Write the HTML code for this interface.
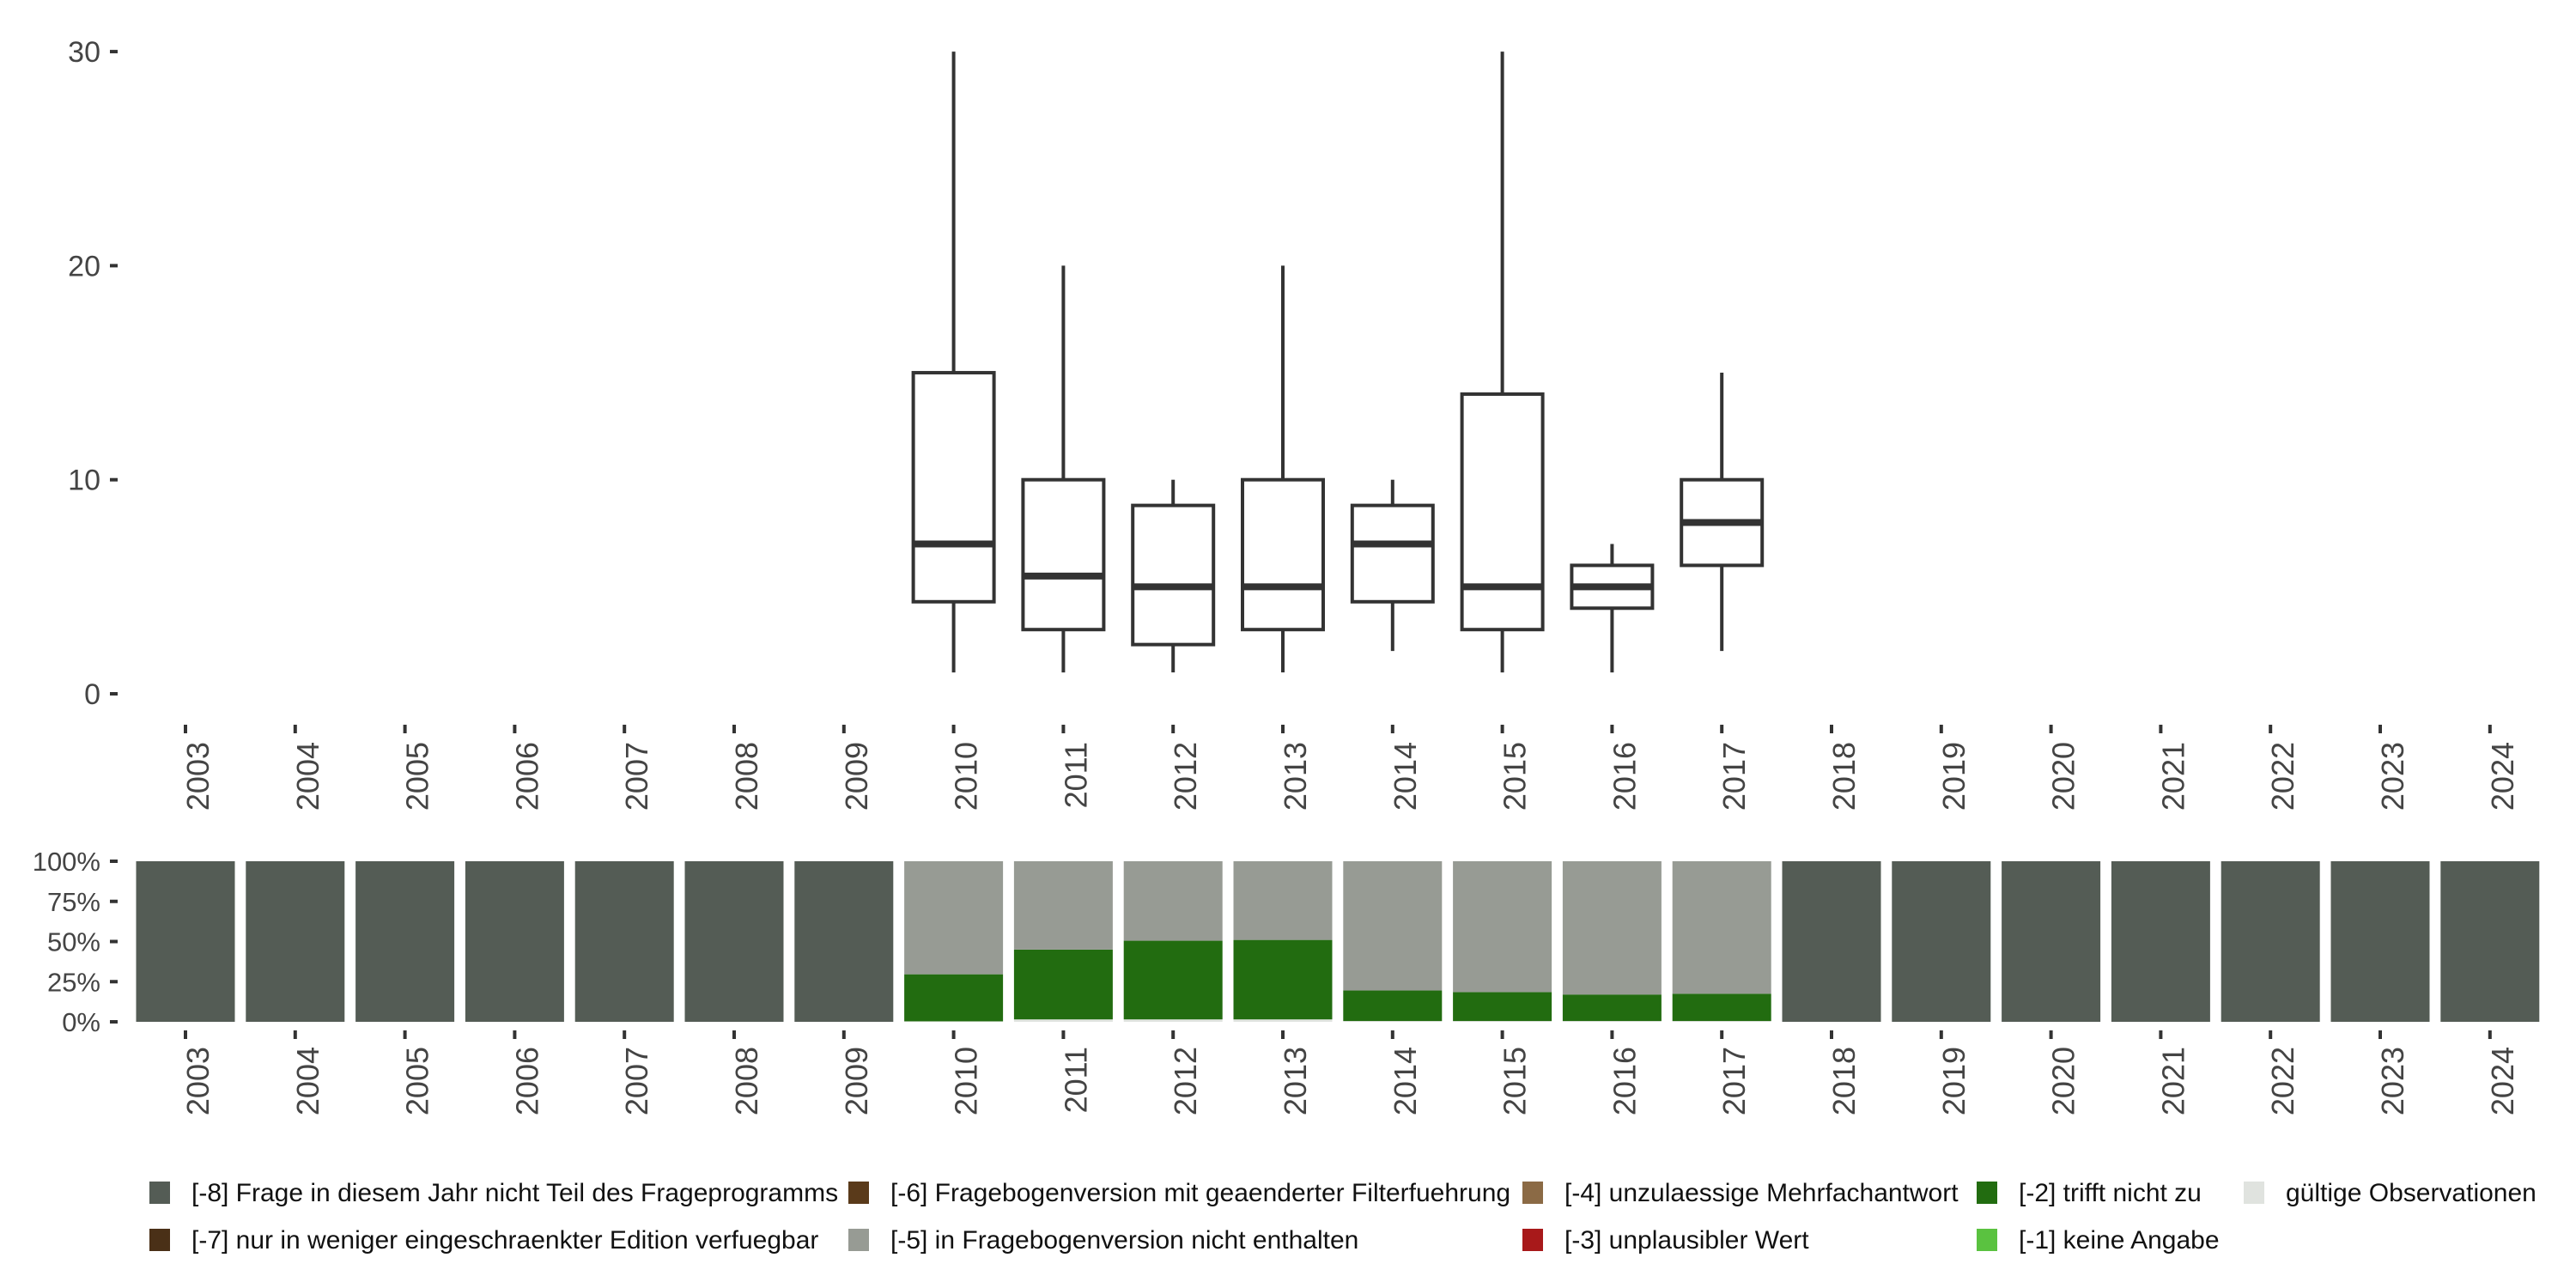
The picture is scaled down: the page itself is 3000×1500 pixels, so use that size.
<!DOCTYPE html>
<html><head><meta charset="utf-8"><style>
html,body{margin:0;padding:0;background:#fff;}
svg{display:block;font-family:"Liberation Sans","DejaVu Sans",sans-serif;}
</style></head><body>
<svg id="chart" width="3000" height="1500" viewBox="0 0 3000 1500"></svg>
<script>
const years = ["2003","2004","2005","2006","2007","2008","2009","2010","2011","2012","2013","2014","2015","2016","2017","2018","2019","2020","2021","2022","2023","2024"];
const boxYears = ["2010","2011","2012","2013","2014","2015","2016","2017"];
const whiskerLow = [1,1,1,1,2,1,1,2];
const q1Values = [4.3,3,2.3,3,4.3,3,4,6];
const medianValues = [7,5.5,5,5,7,5,5,8];
const q3Values = [15,10,8.8,10,8.8,14,6,10];
const whiskerHigh = [30,20,10,20,10,30,7,15];
const yTicks = [0,10,20,30];
const pctTicks = [0,25,50,75,100];
const pctTickLabels = ["0%","25%","50%","75%","100%"];
// share per year (percent): [-8], [-5], [-2], valid
const shareMissing8 = [100,100,100,100,100,100,100,0,0,0,0,0,0,0,0,100,100,100,100,100,100,100];
const shareNotIncluded5 = [0,0,0,0,0,0,0,70.4,55,49.5,49,80.5,81.5,83,82.5,0,0,0,0,0,0,0];
const shareNotApplicable2 = [0,0,0,0,0,0,0,29.3,43.5,49,49.5,19,18,16.5,17,0,0,0,0,0,0,0];
const shareValid = [0,0,0,0,0,0,0,0.3,1.5,1.5,1.5,0.5,0.5,0.5,0.5,0,0,0,0,0,0,0];
const legendLabels = ["[-8] Frage in diesem Jahr nicht Teil des Frageprogramms","[-7] nur in weniger eingeschraenkter Edition verfuegbar","[-6] Fragebogenversion mit geaenderter Filterfuehrung","[-5] in Fragebogenversion nicht enthalten","[-4] unzulaessige Mehrfachantwort","[-3] unplausibler Wert","[-2] trifft nicht zu","[-1] keine Angabe","gültige Observationen"];
const legendColors = ["#545c55","#4a3017","#5a3a1a","#979b94","#8b6a45","#a8191a","#226c10","#5ac240","#e0e3df"];

const NS="http://www.w3.org/2000/svg";
const svg=document.getElementById('chart');
function mk(tag,attrs,parent){const e=document.createElementNS(NS,tag);for(const k in attrs)e.setAttribute(k,attrs[k]);(parent||svg).appendChild(e);return e;}
const xPos = i => 216 + i*127.8;
const yTop = v => 808 - v*24.93;
const yBot = p => 1190 - p*1.87;

const gTop=mk('g',{});


yTicks.forEach(t=>{
  const l=mk('line',{x1:128,x2:137,y1:yTop(t),y2:yTop(t),stroke:'#333','stroke-width':4},gTop);
  
  
  const tx=mk('text',{x:117,y:yTop(t)+12,'text-anchor':'end','font-size':34,fill:'#444'},gTop);
  tx.textContent=t;
  
  
});
years.forEach((yr,i)=>{
  const x=xPos(i);
  const l=mk('line',{x1:x,x2:x,y1:844,y2:854,stroke:'#333','stroke-width':4},gTop);
  
  
  const tx=mk('text',{transform:`translate(${x+27},864) rotate(-90)`,'text-anchor':'end','font-size':36,fill:'#444'},gTop);
  tx.textContent=yr;
  
  
});
boxYears.forEach((yr,k)=>{
  const i=years.indexOf(yr);const x=xPos(i);const w=94;
  const g=mk('g',{},gTop);
  
  
  mk('line',{x1:x,x2:x,y1:yTop(whiskerHigh[k]),y2:yTop(q3Values[k]),stroke:'#333','stroke-width':4},g);
  mk('line',{x1:x,x2:x,y1:yTop(q1Values[k]),y2:yTop(whiskerLow[k]),stroke:'#333','stroke-width':4},g);
  mk('rect',{x:x-w/2,y:yTop(q3Values[k]),width:w,height:yTop(q1Values[k])-yTop(q3Values[k]),fill:'#fff',stroke:'#333','stroke-width':4},g);
  mk('line',{x1:x-w/2,x2:x+w/2,y1:yTop(medianValues[k]),y2:yTop(medianValues[k]),stroke:'#333','stroke-width':8},g);
});

const gBot=mk('g',{});


pctTicks.forEach((t,j)=>{
  const l=mk('line',{x1:128,x2:137,y1:yBot(t),y2:yBot(t),stroke:'#333','stroke-width':4},gBot);
  
  
  const tx=mk('text',{x:117,y:yBot(t)+11,'text-anchor':'end','font-size':31,fill:'#444'},gBot);
  tx.textContent=pctTickLabels[j];
  
  
});
const series=[[shareValid,legendColors[8]],[shareNotApplicable2,legendColors[6]],[shareNotIncluded5,legendColors[3]],[shareMissing8,legendColors[0]]];
years.forEach((yr,i)=>{
  const x=xPos(i);const w=115;
  const g=mk('g',{},gBot);
  
  
  let cum=0;
  series.forEach(([arr,col])=>{
    const v=arr[i]; if(v<=0)return;
    mk('rect',{x:x-w/2,y:yBot(cum+v),width:w,height:yBot(cum)-yBot(cum+v),fill:col},g);
    cum+=v;
  });
  const l=mk('line',{x1:x,x2:x,y1:1200,y2:1210,stroke:'#333','stroke-width':4},gBot);
  
  
  const tx=mk('text',{transform:`translate(${x+27},1219) rotate(-90)`,'text-anchor':'end','font-size':36,fill:'#444'},gBot);
  tx.textContent=yr;
  
  
});

const legX=[174,174,988,988,1773,1773,2302,2302,2613];
const legY=[1389,1444,1389,1444,1389,1444,1389,1444,1389];
const gLeg=mk('g',{});


legendLabels.forEach((lab,j)=>{
  const g=mk('g',{},gLeg);
  
  
  mk('rect',{x:legX[j],y:legY[j]-13,width:24,height:26,fill:legendColors[j]},g);
  const t=mk('text',{x:legX[j]+49,y:legY[j]+10,'font-size':30,fill:'#111'},g);
  t.textContent=lab;
});
</script>
</body></html>
